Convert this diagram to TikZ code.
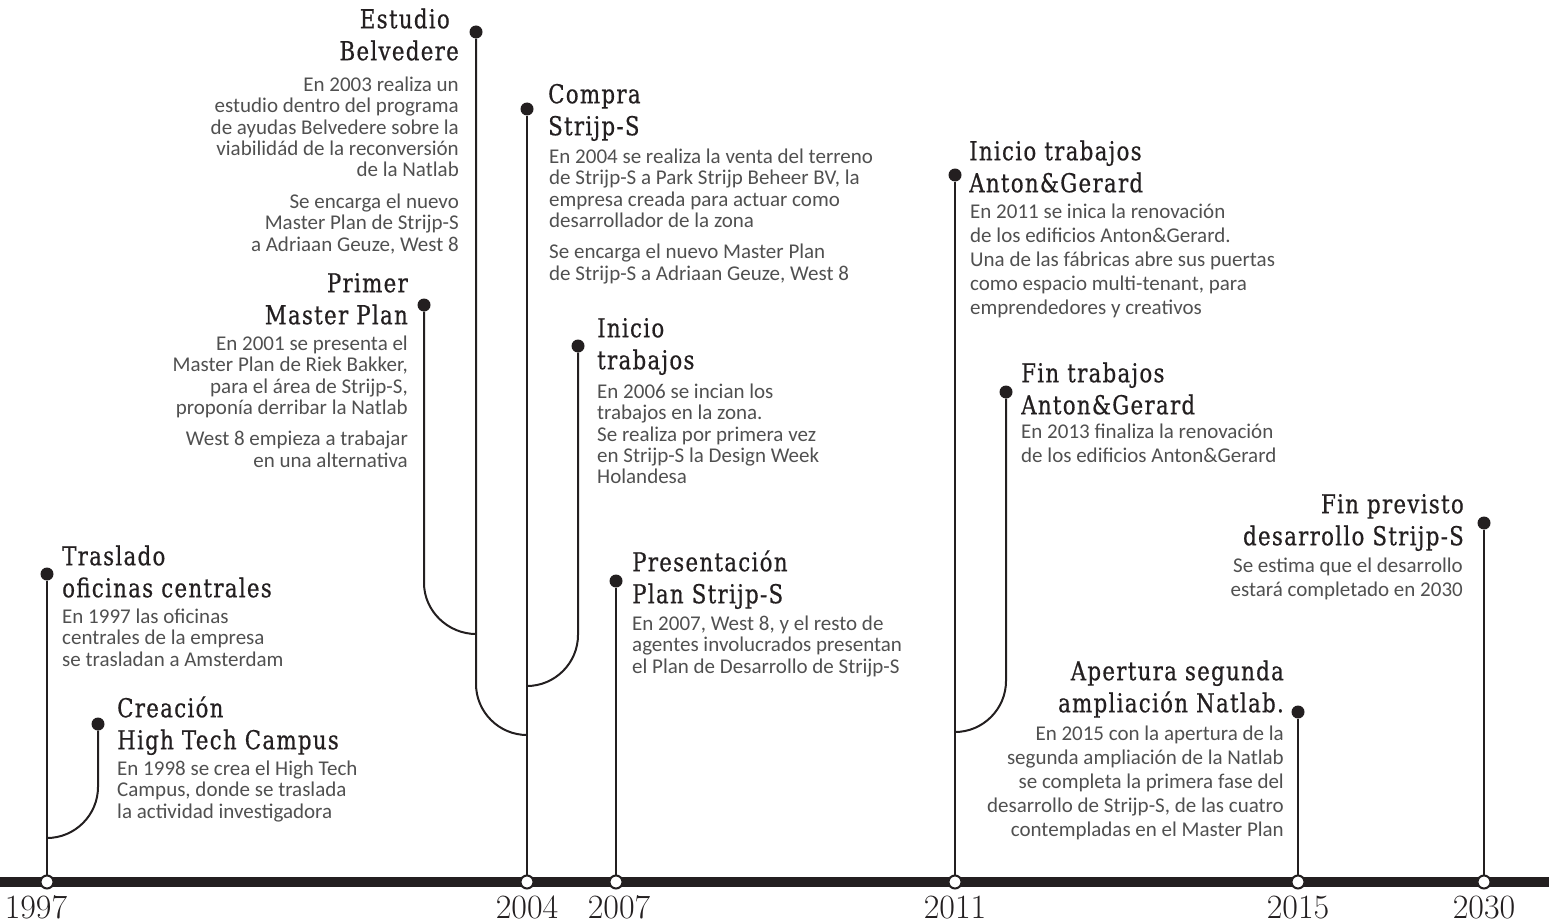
\documentclass[tikz,border=0pt]{standalone}
\usepackage{fontspec}
\newfontfamily\bodyfont{Carlito}
\newfontfamily\ttlfont{DejaVu Serif}[FakeStretch=0.82,LetterSpace=5,FakeBold=0.6]
\definecolor{ink}{HTML}{231F20}
\definecolor{txt}{HTML}{505050}
\newcommand\topstr{\rule{0pt}{20pt}}
\tikzset{
  ttl/.style={inner sep=0pt, font=\ttlfont\fontsize{26}{32}\selectfont, text=ink},
  bdy/.style={inner sep=0pt, font=\bodyfont\fontsize{21}{21.4}\selectfont, text=txt},
  bdyb/.style={inner sep=0pt, font=\bodyfont\fontsize{21}{24}\selectfont, text=txt},
  evdot/.style={circle, fill=ink, inner sep=0pt, minimum size=13pt},
  axdot/.style={circle, draw=ink, fill=white, line width=2pt, inner sep=0pt, minimum size=13pt},
  yr/.style={inner sep=0pt, font=\fontsize{34}{34}\selectfont, text=ink},
  stem/.style={draw=ink, line width=2pt},
}
\begin{document}
\begin{tikzpicture}[x=1pt,y=-1pt]
\useasboundingbox (0,0) rectangle (1549,923);
% axis
\coordinate (axl) at (0,882);
\coordinate (axr) at (1549,882);
\draw[ink, line width=10pt] (axl) -- (axr);

% axis ticks
\node[axdot] (a97) at (47,882) {};
\node[axdot] (a04) at (527,882) {};
\node[axdot] (a07) at (616,882) {};
\node[axdot] (a11) at (955,882) {};
\node[axdot] (a15) at (1298,882) {};
\node[axdot] (a30) at (1484,882) {};

% years
\node[yr, anchor=base] (y97) at (36,918) {1997};
\node[yr, anchor=base] (y04) at (527,918) {2004};
\node[yr, anchor=base] (y07) at (619,918) {2007};
\node[yr, anchor=base] (y11) at (955,918) {2011};
\node[yr, anchor=base] (y15) at (1298,918) {2015};
\node[yr, anchor=base] (y30) at (1484,918) {2030};

% event dots
\node[evdot] (d97) at (47,574) {};
\node[evdot] (d98) at (98,724) {};
\node[evdot] (d03) at (476,32) {};
\node[evdot] (d01) at (424,305) {};
\node[evdot] (d04) at (527,109) {};
\node[evdot] (d06) at (578,346) {};
\node[evdot] (d07) at (616,581) {};
\node[evdot] (d11) at (955,175) {};
\node[evdot] (d13) at (1006,392) {};
\node[evdot] (d15) at (1298,712) {};
\node[evdot] (d30) at (1484,523) {};

% branch coordinates
\coordinate (b98) at (98,787);   \coordinate (j98) at (47,838);
\coordinate (b03) at (476,684);  \coordinate (j03) at (527,735);
\coordinate (b01) at (424,583);  \coordinate (j01) at (476,634);
\coordinate (b06) at (578,635);  \coordinate (j06) at (527,686);
\coordinate (b13) at (1006,681); \coordinate (j13) at (955,732);

% straight stems
\draw[stem] (d97) -- (a97);
\draw[stem] (d04) -- (a04);
\draw[stem] (d07) -- (a07);
\draw[stem] (d11) -- (a11);
\draw[stem] (d15) -- (a15);
\draw[stem] (d30) -- (a30);

% curved branches (joining from the right)
\draw[stem] (d98) -- (b98) .. controls +(0,28) and +(28,0) .. (j98);
\draw[stem] (d06) -- (b06) .. controls +(0,28) and +(28,0) .. (j06);
\draw[stem] (d13) -- (b13) .. controls +(0,28) and +(28,0) .. (j13);
% curved branches (joining from the left)
\draw[stem] (d03) -- (b03) .. controls +(0,28) and +(-28,0) .. (j03);
\draw[stem] (d01) -- (b01) .. controls +(0,28) and +(-28,0) .. (j01);

% 1997
\node[ttl, anchor=north west, align=left] (t97) at (62,542.6)
  {\strut Traslado\\oficinas centrales};
\node[bdy, anchor=north west, align=left] (p97) at (62,603)
  {\topstr En 1997 las oficinas\\centrales de la empresa\\se trasladan a Amsterdam};

% 1998
\node[ttl, anchor=north west, align=left] (t98) at (117,694.6)
  {\strut Creación\\High Tech Campus};
\node[bdy, anchor=north west, align=left] (p98) at (117,755)
  {\topstr En 1998 se crea el High Tech\\Campus, donde se traslada\\la actividad investigadora};

% 2003
\node[ttl, anchor=north east, align=right] (t03) at (459,5.6)
  {\strut Estudio\kern9pt\\Belvedere};
\node[bdy, anchor=north east, align=right] (p03) at (459,71)
  {\topstr En 2003 realiza un\\estudio dentro del programa\\de ayudas Belvedere sobre la\\viabilidád de la reconversión\\de la Natlab\\[10pt]Se encarga el nuevo\\Master Plan de Strijp-S\\a Adriaan Geuze, West 8};

% 2001
\node[ttl, anchor=north east, align=right] (t01) at (408,269.6)
  {\strut Primer\\Master Plan};
\node[bdy, anchor=north east, align=right] (p01) at (408,330)
  {\topstr En 2001 se presenta el\\Master Plan de Riek Bakker,\\para el área de Strijp-S,\\proponía derribar la Natlab\\[10pt]West 8 empieza a trabajar\\en una alternativa};

% 2004
\node[ttl, anchor=north west, align=left] (t04) at (548,80.6)
  {\strut Compra\\Strijp-S};
\node[bdy, anchor=north west, align=left] (p04) at (549,143)
  {\topstr En 2004 se realiza la venta del terreno\\de Strijp-S a Park Strijp Beheer BV, la\\empresa creada para actuar como\\desarrollador de la zona\\[10pt]Se encarga el nuevo Master Plan\\de Strijp-S a Adriaan Geuze, West 8};

% 2006
\node[ttl, anchor=north west, align=left] (t06) at (597,314.6)
  {\strut Inicio\\trabajos};
\node[bdy, anchor=north west, align=left] (p06) at (597,378)
  {\topstr En 2006 se incian los\\trabajos en la zona.\\Se realiza por primera vez\\en Strijp-S la Design Week\\Holandesa};

% 2007
\node[ttl, anchor=north west, align=left] (t07) at (632,548.6)
  {\strut Presentación\\Plan Strijp-S};
\node[bdy, anchor=north west, align=left] (p07) at (632,610)
  {\topstr En 2007, West 8, y el resto de\\agentes involucrados presentan\\el Plan de Desarrollo de Strijp-S};

% 2011
\node[ttl, anchor=north west, align=left] (t11) at (969,137.6)
  {\strut Inicio trabajos\\Anton\&Gerard};
\node[bdyb, anchor=north west, align=left] (p11) at (970,198)
  {\topstr En 2011 se inica la renovación\\de los edificios Anton\&Gerard.\\Una de las fábricas abre sus puertas\\como espacio multi-tenant, para\\emprendedores y creativos};

% 2013
\node[ttl, anchor=north west, align=left] (t13) at (1021,359.6)
  {\strut Fin trabajos\\Anton\&Gerard};
\node[bdyb, anchor=north west, align=left] (p13) at (1021,418)
  {\topstr En 2013 finaliza la renovación\\de los edificios Anton\&Gerard};

% 2015
\node[ttl, anchor=north east, align=right] (t15) at (1284,657.6)
  {\strut Apertura segunda\\ampliación Natlab.};
\node[bdyb, anchor=north east, align=right] (p15) at (1284,720)
  {\topstr En 2015 con la apertura de la\\segunda ampliación de la Natlab\\se completa la primera fase del\\desarrollo de Strijp-S, de las cuatro\\contempladas en el Master Plan};

% 2030
\node[ttl, anchor=north east, align=right] (t30) at (1464,490.6)
  {\strut Fin previsto\\desarrollo Strijp-S};
\node[bdyb, anchor=north east, align=right] (p30) at (1463,552)
  {\topstr Se estima que el desarrollo\\estará completado en 2030};
\end{tikzpicture}
\end{document}
